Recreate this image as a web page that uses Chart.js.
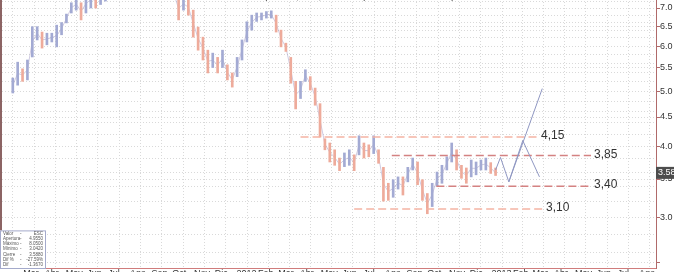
<!DOCTYPE html>
<html lang="es">
<head>
<meta charset="utf-8">
<title>Cotización semanal</title>
<script src="https://cdn.jsdelivr.net/npm/chart.js@4.4.1/dist/chart.umd.min.js"></script>
<style>
  html, body { margin: 0; padding: 0; background: #fff; overflow: hidden; }
  #wrap { position: relative; width: 674px; height: 272px; overflow: hidden; }
  #chart { position: absolute; left: 0; top: -40px; }
</style>
</head>
<body>
<div id="wrap"><canvas id="chart" width="674" height="322"></canvas></div>
<script>
// weekly ranges (first bar = week of 14 Feb 2011)
const firstWeek = "2011-02-14";
const weekLows = [
  4.96, 5.12, 5.20, 5.23, 5.74, 6.15, 5.95, 6.03, 6.10, 5.98,
  6.28, 6.59, 6.86, 6.94, 6.67, 6.86, 7.00, 7.00, 7.10, 7.20,
  7.30, 7.40, 7.50, 7.60, 7.55, 7.40, 7.45, 7.60, 7.65, 7.60,
  7.50, 7.40, 7.30, 7.25, 6.67, 6.94, 6.80, 6.22, 5.90, 5.67,
  5.38, 5.50, 5.38, 5.50, 5.23, 5.08, 5.30, 5.67, 6.10, 6.40,
  6.63, 6.67, 6.72, 6.72, 6.35, 5.98, 5.87, 5.16, 4.65, 4.85,
  5.20, 5.02, 4.72, 4.15, 3.94, 3.75, 3.70, 3.62, 3.68, 3.70,
  3.62, 3.86, 3.81, 3.83, 3.88, 3.73, 3.20, 3.21, 3.25, 3.36,
  3.28, 3.46, 3.63, 3.42, 3.21, 3.04, 3.13, 3.40, 3.44, 3.63,
  3.75, 3.63, 3.51, 3.44, 3.53, 3.56, 3.63, 3.63, 3.58, 3.55,
];
const weekHighs = [
  5.27, 5.62, 5.47, 5.67, 6.49, 6.49, 6.35, 6.32, 6.32, 6.53,
  6.60, 6.83, 7.15, 7.28, 7.15, 7.38, 7.50, 7.45, 7.52, 7.55,
  7.70, 7.80, 7.95, 8.05, 7.95, 7.80, 7.85, 8.00, 8.02, 7.98,
  7.90, 7.80, 7.70, 7.60, 7.30, 7.30, 7.25, 6.94, 6.48, 6.22,
  5.90, 5.83, 5.73, 5.90, 5.56, 5.38, 5.73, 6.15, 6.62, 6.80,
  6.86, 6.86, 6.90, 6.92, 6.80, 6.40, 6.07, 5.73, 5.20, 5.20,
  5.45, 5.30, 5.06, 4.75, 4.12, 4.05, 3.94, 3.81, 3.89, 3.94,
  3.86, 4.17, 4.05, 4.02, 4.17, 3.94, 3.67, 3.44, 3.49, 3.53,
  3.53, 3.67, 3.81, 3.75, 3.49, 3.30, 3.44, 3.60, 3.70, 3.83,
  4.05, 3.94, 3.70, 3.66, 3.78, 3.75, 3.78, 3.81, 3.74, 3.66,
];
const lastClose = 3.588;

// support / resistance levels drawn on the chart
const levelValues = [4.15, 3.85, 3.40, 3.10];
const levelLabels = ["4,15", "3,85", "3,40", "3,10"];
const levelFrom = ["2012-04-02", "2012-08-11", "2012-10-14", "2012-06-18"];
const levelTo = ["2013-03-09", "2013-05-24", "2013-05-24", "2013-03-16"];

// hand-drawn projections
const pathDates = ["2013-01-07", "2013-01-14", "2013-01-26", "2013-02-15", "2013-03-11"];
const pathValues = [3.63, 3.82, 3.46, 4.09, 3.53];
const breakoutDates = ["2013-01-26", "2013-03-15"];
const breakoutValues = [3.46, 5.05];

// axes
const monthNames = ["Ene", "Feb", "Mar", "Abr", "May", "Jun", "Jul", "Ago", "Sep", "Oct", "Nov", "Dic"];
const yLabelTicks = [3.0, 3.5, 4.0, 4.5, 5.0, 5.5, 6.0, 6.5, 7.0, 7.5, 8.0];
const yMarkOnly = [2.5];

const infoLabels = ["Valor", "Apertura", "Máximo", "Mínimo", "Cierre", "Dif %", "Dif"];
const infoValues = ["ESC", "4.9550", "8.0500", "3.0420", "3.5880", "-27.59%", "-1.3670"];

const titleText = "Soporte 6,70 6,50 en el que invertiré a corto plazo.";

const FONT = '"Liberation Sans", Arial, sans-serif';
const AXIS = "#b06a6a";
const GRID = "#d9d9d9";
const UP = "#a3aad3";
const DOWN = "#eeab9b";

const ORIGIN = Date.UTC(2011, 2, 1);
const dayOf = (s) => (Date.parse(s + "T00:00:00Z") - ORIGIN) / 864e5;

const firstDay = dayOf(firstWeek);
const bars = weekLows.map((lo, i) => ({ x: firstDay + 7 * i, y: [lo, weekHighs[i]] }));
const mids = weekLows.map((lo, i) => ({ x: firstDay + 7 * i, y: (lo + weekHighs[i]) / 2 }));
mids[mids.length - 1].y = lastClose;
const barColors = weekLows.map((lo, i) => {
  if (i === 0) return UP;
  return mids[i].y >= mids[i - 1].y ? UP : DOWN;
});

// month ticks: Mar 2011 .. Aug 2013, January shown as the year
const monthTicks = [];
for (let y = 2011, m = 2; y < 2013 || m <= 7; m++) {
  if (m > 11) { m = 0; y++; }
  monthTicks.push({ day: (Date.UTC(y, m, 1) - ORIGIN) / 864e5, label: m === 0 ? String(y) : monthNames[m] });
}

// y grid: every 0.2 plus the labelled 0.5 steps
const yGrid = new Set([...yLabelTicks, ...yMarkOnly]);
for (let v = 2.6; v < 8.45; v += 0.2) yGrid.add(Math.round(v * 10) / 10);
const yTicks = [...yGrid].sort((a, b) => a - b);
const isLabelled = (v) => yLabelTicks.includes(v);

const levelStyles = [
  { color: "#f5b4a4" },
  { color: "#d48282" },
  { color: "#d48282" },
  { color: "#f5b4a4" },
];

const levelSets = levelValues.map((v, i) => ({
  type: "line",
  data: [{ x: dayOf(levelFrom[i]), y: v }, { x: dayOf(levelTo[i]), y: v }],
  borderColor: levelStyles[i].color,
  borderWidth: 1.5,
  borderDash: [8, 4],
  pointRadius: 0,
  order: 2,
}));

const overlay = {
  id: "overlay",
  afterDatasetsDraw(chart) {
    const { ctx, scales: { x, y } } = chart;
    ctx.save();
    // level labels
    ctx.font = "12px " + FONT;
    ctx.fillStyle = "#333";
    ctx.textBaseline = "middle";
    ctx.textAlign = "left";
    levelValues.forEach((v, i) => {
      ctx.fillText(levelLabels[i], x.getPixelForValue(dayOf(levelTo[i])) + 3, y.getPixelForValue(v) - 1);
    });
    // title (mostly above the visible window)
    ctx.font = "10px " + FONT;
    ctx.fillStyle = "#444";
    ctx.textBaseline = "alphabetic";
    ctx.fillText(titleText, 253, 39);
    ctx.restore();
  },
  afterDraw(chart) {
    const { ctx, scales: { y }, chartArea } = chart;
    ctx.save();
    // left frame and bottom axis line
    ctx.strokeStyle = "#8c6464";
    ctx.lineWidth = 2;
    ctx.beginPath();
    ctx.moveTo(1, chartArea.top);
    ctx.lineTo(1, chartArea.bottom);
    ctx.stroke();
    ctx.strokeStyle = "#d07c7c";
    ctx.lineWidth = 1;
    ctx.beginPath();
    ctx.moveTo(0, chartArea.bottom + 0.5);
    ctx.lineTo(chartArea.right, chartArea.bottom + 0.5);
    ctx.stroke();
    // info box
    const bx = 0, bw = 45, rh = 5.3;
    const by = chartArea.bottom - infoLabels.length * rh - 0.5;
    ctx.fillStyle = "#fff";
    ctx.fillRect(bx, by, bw, chartArea.bottom - by);
    ctx.strokeStyle = "#a4aacb";
    ctx.lineWidth = 1;
    ctx.strokeRect(bx + 0.5, by + 0.5, bw, chartArea.bottom - by);
    ctx.font = "4.5px " + FONT;
    ctx.fillStyle = "#555";
    ctx.textBaseline = "middle";
    infoLabels.forEach((lab, i) => {
      const ty = by + rh * (i + 0.55);
      ctx.textAlign = "left";
      ctx.fillText(lab, bx + 3, ty);
      ctx.fillText("-", bx + 20, ty);
      ctx.textAlign = "right";
      ctx.fillText(infoValues[i], bx + bw - 2, ty);
    });
    // last price tag
    const py = y.getPixelForValue(lastClose);
    ctx.fillStyle = "#4d4d4d";
    ctx.fillRect(chartArea.right, py - 6, 30, 12);
    ctx.fillStyle = "#fff";
    ctx.font = "9px " + FONT;
    ctx.textAlign = "left";
    ctx.fillText(lastClose.toFixed(3), chartArea.right + 2, py);
    ctx.restore();
  },
};

new Chart(document.getElementById("chart"), {
  type: "bar",
  data: {
    datasets: [
      {
        data: bars,
        backgroundColor: barColors,
        borderWidth: 0,
        barThickness: 2,
        order: 3,
      },
      {
        type: "line",
        data: mids,
        borderColor: "rgba(170,160,200,0.55)",
        borderWidth: 1,
        pointRadius: 0,
        order: 4,
      },
      ...levelSets,
      {
        type: "line",
        data: pathDates.map((d, i) => ({ x: dayOf(d), y: pathValues[i] })),
        borderColor: "#8f97c2",
        borderWidth: 1,
        pointRadius: 0,
        order: 1,
      },
      {
        type: "line",
        data: breakoutDates.map((d, i) => ({ x: dayOf(d), y: breakoutValues[i] })),
        borderColor: "#8f97c2",
        borderWidth: 1,
        pointRadius: 0,
        order: 1,
      },
    ],
  },
  options: {
    responsive: false,
    animation: false,
    events: [],
    layout: { padding: { left: 2, right: 0, top: 0, bottom: 0 } },
    plugins: { legend: { display: false }, tooltip: { enabled: false }, title: { display: false } },
    scales: {
      x: {
        type: "linear",
        position: "bottom",
        min: -14.85,
        max: 892.6,
        afterBuildTicks: (s) => { s.ticks = monthTicks.map((t) => ({ value: t.day })); },
        afterFit: (s) => { s.height = 14; s.paddingLeft = 0; s.paddingRight = 0; },
        ticks: {
          autoSkip: false,
          maxRotation: 0,
          align: "start",
          padding: 0,
          color: "#333",
          font: { size: 9, family: FONT },
          callback: (v, i) => monthTicks[i] ? monthTicks[i].label : "",
        },
        grid: { color: GRID, drawTicks: false },
        border: { color: AXIS, width: 1, dash: [1, 2] },
      },
      y: {
        type: "logarithmic",
        position: "right",
        min: 2.44,
        max: 8.504,
        bounds: "data",
        afterBuildTicks: (s) => { s.ticks = yTicks.map((v) => ({ value: v })); },
        afterFit: (s) => { s.width = 18; s.paddingTop = 0; s.paddingBottom = 0; },
        ticks: {
          autoSkip: false,
          padding: 0,
          color: "#333",
          font: { size: 9, family: FONT },
          callback: (v, i, ticks) => (i === ticks.length - 1 ? null : isLabelled(v) ? v.toFixed(1) : ""),
        },
        grid: {
          color: GRID,
          tickLength: 4,
          tickColor: (c) => (c.tick && (isLabelled(c.tick.value) || yMarkOnly.includes(c.tick.value)) ? AXIS : "rgba(0,0,0,0)"),
        },
        border: { color: AXIS, width: 1, dash: [1, 2] },
      },
    },
  },
  plugins: [overlay],
});
</script>
</body>
</html>
